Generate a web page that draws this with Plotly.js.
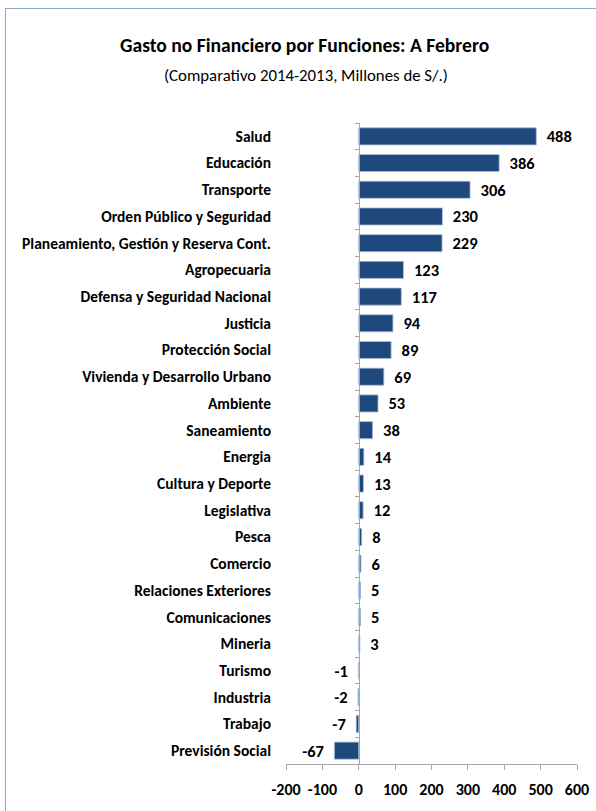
<!DOCTYPE html>
<html>
<head>
<meta charset="utf-8">
<script src="https://cdn.plot.ly/plotly-3.0.1.min.js"></script>
<style>
html,body{margin:0;padding:0;background:#fff;}
#wrap{position:relative;width:596px;height:811px;overflow:hidden;}
#chart{position:absolute;left:0;top:0;width:596px;height:811px;}
#frame{position:absolute;left:5px;top:8px;width:620px;height:840px;border:1px solid #8FA8C4;pointer-events:none;}
</style>
</head>
<body>
<div id="wrap"><div id="chart"></div><div id="frame"></div></div>
<script>
const categories = ["Salud","Educación","Transporte","Orden Público y Seguridad","Planeamiento, Gestión y Reserva Cont.","Agropecuaria","Defensa y Seguridad Nacional","Justicia","Protección Social","Vivienda y Desarrollo Urbano","Ambiente","Saneamiento","Energia","Cultura y Deporte","Legislativa","Pesca","Comercio","Relaciones Exteriores","Comunicaciones","Mineria","Turismo","Industria","Trabajo","Previsión Social"];
const values = [488,386,306,230,229,123,117,94,89,69,53,38,14,13,12,8,6,5,5,3,-1,-2,-7,-67];
const xTicks = [-200,-100,0,100,200,300,400,500,600];
const titleText = "Gasto no Financiero por Funciones: A Febrero";
const subtitleText = "(Comparativo 2014-2013, Millones de S/.)";

const FONT = "Carlito, 'Liberation Sans Narrow', 'Open Sans', sans-serif";
const PAD = "\u00a0\u00a0";

const traces = [
  {
    type: "bar",
    orientation: "h",
    x: values,
    y: categories,
    yaxis: "y",
    width: 0.64,
    marker: {color: "#1F497D", line: {color: "#A9BFDA", width: 0.8}},
    text: values.map(v => v < 0 ? String(v) + PAD : PAD + String(v)),
    textposition: "outside",
    constraintext: "none",
    textfont: {family: FONT, size: 16.5, color: "#000", weight: "bold"},
    cliponaxis: false,
    hoverinfo: "skip"
  },
  {
    type: "scatter",
    mode: "none",
    x: values.map(() => 0),
    y: categories,
    yaxis: "y2",
    hoverinfo: "skip",
    showlegend: false
  }
];

const layout = {
  width: 596,
  height: 811,
  margin: {l: 286, r: 19, t: 122.6, b: 47.3},
  paper_bgcolor: "rgba(0,0,0,0)",
  plot_bgcolor: "rgba(0,0,0,0)",
  showlegend: false,
  bargap: 0.36,
  font: {family: FONT, color: "#000"},
  xaxis: {
    range: [-200, 600],
    tickvals: xTicks,
    ticktext: xTicks.map(String),
    showgrid: false,
    zeroline: false,
    showline: true,
    linecolor: "#A6A6A6",
    linewidth: 1,
    ticks: "outside",
    ticklen: 5,
    tickcolor: "#A6A6A6",
    ticklabelstandoff: 6,
    tickfont: {family: FONT, size: 16, color: "#000", weight: "bold"},
    fixedrange: true
  },
  yaxis: {
    type: "category",
    categoryorder: "array",
    categoryarray: categories,
    range: [categories.length - 0.5, -0.5],
    showgrid: false,
    zeroline: false,
    showline: false,
    ticks: "",
    ticklabelstandoff: 14,
    tickfont: {family: FONT, size: 15.5, color: "#000", weight: "bold"},
    fixedrange: true
  },
  yaxis2: {
    type: "category",
    categoryorder: "array",
    categoryarray: categories,
    range: [categories.length - 0.5, -0.5],
    overlaying: "y",
    anchor: "free",
    position: 0.25,
    side: "left",
    showgrid: false,
    zeroline: false,
    showline: true,
    linecolor: "#A6A6A6",
    linewidth: 1,
    ticks: "outside",
    tickson: "boundaries",
    ticklen: 4,
    tickcolor: "#A6A6A6",
    showticklabels: false,
    fixedrange: true
  },
  annotations: [
    {
      text: "<b>" + titleText + "</b>",
      xref: "paper", yref: "paper",
      x: 0.065, y: 1.121,
      xanchor: "center", yanchor: "middle",
      showarrow: false,
      font: {family: FONT, size: 19.6, color: "#000"}
    },
    {
      text: subtitleText,
      xref: "paper", yref: "paper",
      x: 0.07, y: 1.074,
      xanchor: "center", yanchor: "middle",
      showarrow: false,
      font: {family: FONT, size: 16.8, color: "#000"}
    }
  ]
};

Plotly.newPlot("chart", traces, layout, {displayModeBar: false, staticPlot: true});
</script>
</body>
</html>
